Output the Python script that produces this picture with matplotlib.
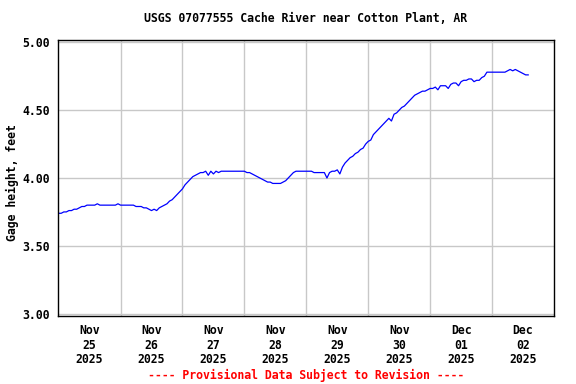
import matplotlib
matplotlib.use("Agg")
import matplotlib.pyplot as plt
import numpy as np

# Hourly gage height readings (feet), starting Nov 25 2025 00:00
day1 = [3.74, 3.74, 3.75, 3.75, 3.76, 3.76, 3.77, 3.77, 3.78, 3.79, 3.79, 3.80,
        3.80, 3.80, 3.80, 3.81, 3.80, 3.80, 3.80, 3.80, 3.80, 3.80, 3.80, 3.81]
day2 = [3.80, 3.80, 3.80, 3.80, 3.80, 3.80, 3.79, 3.79, 3.79, 3.78, 3.78, 3.77,
        3.76, 3.77, 3.76, 3.78, 3.79, 3.80, 3.81, 3.83, 3.84, 3.86, 3.88, 3.90]
day3 = [3.92, 3.95, 3.97, 3.99, 4.01, 4.02, 4.03, 4.04, 4.04, 4.05, 4.02, 4.05,
        4.03, 4.05, 4.04, 4.05, 4.05, 4.05, 4.05, 4.05, 4.05, 4.05, 4.05, 4.05]
day4 = [4.05, 4.04, 4.04, 4.03, 4.02, 4.01, 4.00, 3.99, 3.98, 3.97, 3.97, 3.96,
        3.96, 3.96, 3.96, 3.97, 3.98, 4.00, 4.02, 4.04, 4.05, 4.05, 4.05, 4.05]
day5 = [4.05, 4.05, 4.05, 4.04, 4.04, 4.04, 4.04, 4.04, 4.00, 4.04, 4.05, 4.05,
        4.06, 4.03, 4.08, 4.11, 4.13, 4.15, 4.16, 4.18, 4.19, 4.21, 4.22, 4.25]
day6 = [4.27, 4.28, 4.32, 4.34, 4.36, 4.38, 4.40, 4.42, 4.44, 4.42, 4.47, 4.48,
        4.50, 4.52, 4.53, 4.55, 4.57, 4.59, 4.61, 4.62, 4.63, 4.64, 4.64, 4.65]
day7 = [4.66, 4.66, 4.67, 4.65, 4.68, 4.68, 4.68, 4.66, 4.69, 4.70, 4.70, 4.68,
        4.71, 4.72, 4.72, 4.73, 4.73, 4.71, 4.72, 4.72, 4.74, 4.75, 4.78, 4.78]
day8 = [4.78, 4.78, 4.78, 4.78, 4.78, 4.78, 4.79, 4.80, 4.79, 4.80, 4.79, 4.78,
        4.77, 4.76, 4.76]

heights = day1 + day2 + day3 + day4 + day5 + day6 + day7 + day8
hours = np.arange(len(heights))

date_labels = ["Nov\n25\n2025", "Nov\n26\n2025", "Nov\n27\n2025", "Nov\n28\n2025",
               "Nov\n29\n2025", "Nov\n30\n2025", "Dec\n01\n2025", "Dec\n02\n2025"]
y_ticks = [3.00, 3.50, 4.00, 4.50, 5.00]

title = "USGS 07077555 Cache River near Cotton Plant, AR"
ylabel = "Gage height, feet"
footer = "---- Provisional Data Subject to Revision ----"

font = dict(family="DejaVu Sans Mono", weight="bold", size=8.3)

fig = plt.figure(figsize=(5.76, 3.84), dpi=100)
ax = fig.add_axes([0.1007, 0.1771, 0.8611, 0.7187])

ax.plot(hours / 24.0, heights, color="#0000ff", linewidth=0.9)

ax.set_xlim(-0.01, 8.0)
ax.set_ylim(2.983, 5.017)

ax.set_xticks(np.arange(len(date_labels)) + 0.5)
ax.set_xticklabels(date_labels, fontdict=font, linespacing=1.15)
ax.set_xticks(np.arange(1, 8), minor=True)
ax.set_yticks(y_ticks)
ax.set_yticklabels([f"{v:.2f}" for v in y_ticks], fontdict=font)

ax.tick_params(axis="both", which="both", length=0, pad=6)
ax.grid(True, which="minor", axis="x", color="#c8c8c8", linewidth=1.0)
ax.grid(True, which="major", axis="y", color="#c8c8c8", linewidth=1.0)
ax.grid(False, which="major", axis="x")
ax.set_axisbelow(True)
for s in ax.spines.values():
    s.set_color("black")
    s.set_linewidth(1.0)

fig.text(306 / 576, 1 - 19 / 384, title, ha="center", va="center", **font)
fig.text(12 / 576, 1 - 183 / 384, ylabel, ha="center", va="center", rotation=90, **font)
fig.text(306 / 576, 1 - 375 / 384, footer, ha="center", va="center", color="#ff0000", **font)

fig.savefig("out.png", dpi=100, facecolor="white")
